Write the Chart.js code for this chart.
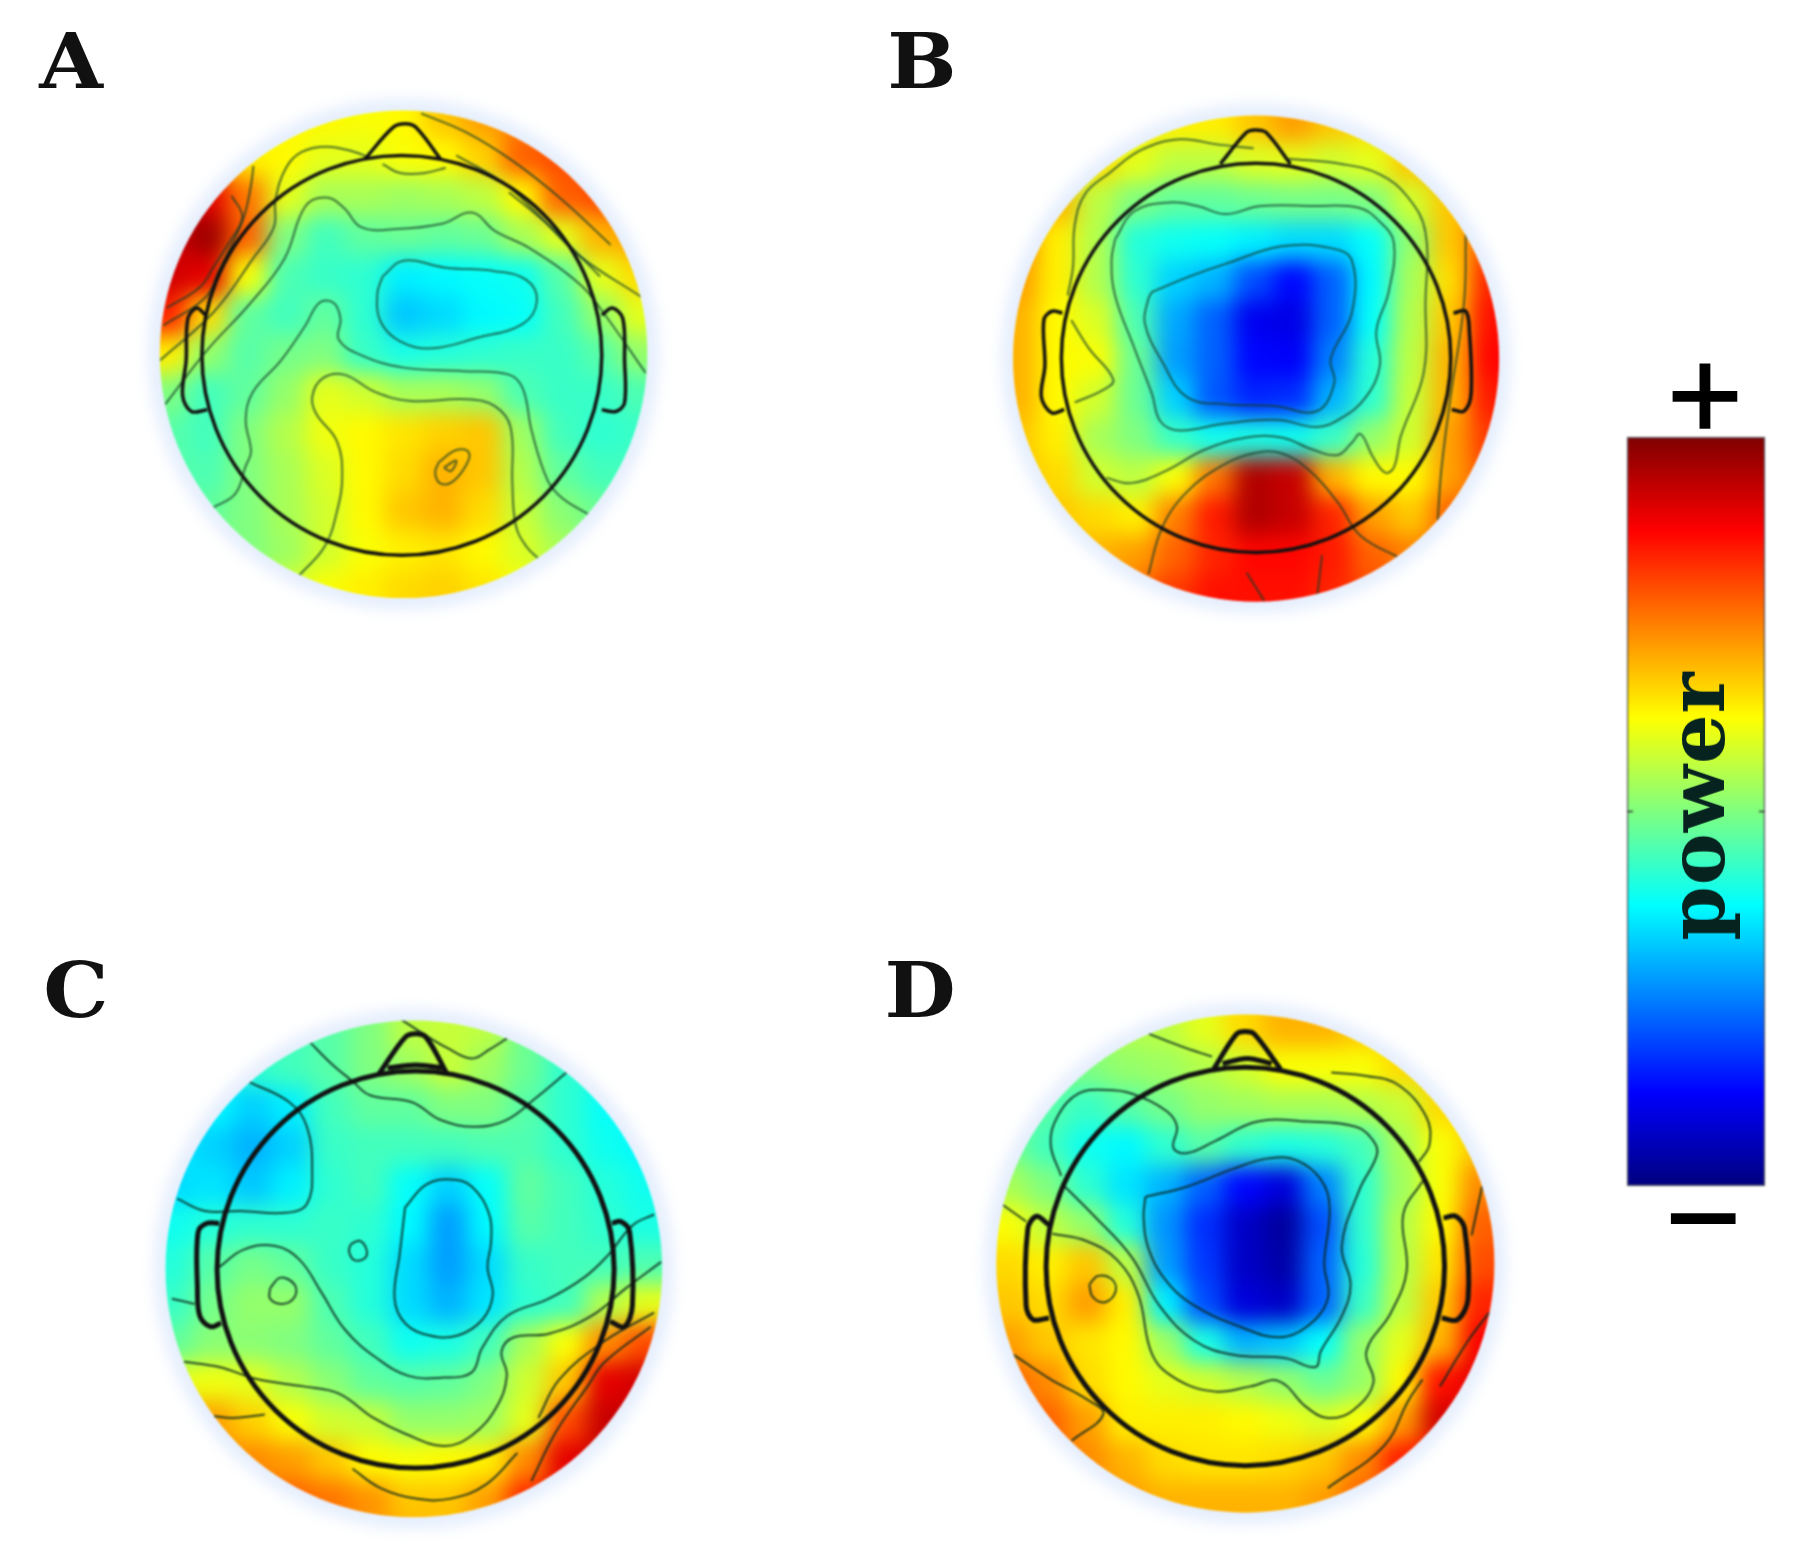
<!DOCTYPE html>
<html>
<head>
<meta charset="utf-8">
<title>Power topographies</title>
<script src="https://cdn.jsdelivr.net/npm/chart.js@4"></script>
<style>
    html, body { margin: 0; background: #fff; }
    #page { position: relative; width: 1800px; height: 1546px; overflow: hidden; background: #fff; }
    canvas { position: absolute; filter: blur(0.9px); }
    .label { position: absolute; line-height: 1; color: #111; filter: blur(0.7px); white-space: pre; }
    .letter { font: bold 76px "DejaVu Serif", serif; transform: translate(-50%, -50%) scaleX(1.08); }
    .sign { font: normal 130px "Liberation Mono", monospace; transform: translate(-50%, -50%); color: #000; -webkit-text-stroke: 1.5px #000; }
    #power { font: bold 78px "DejaVu Serif", serif; letter-spacing: 1px; left: 1651px; top: 806px; transform-origin: 0 0; transform: rotate(-90deg) translate(-50%, 0); color: #06231f; }
</style>
</head>
<body>
<div id="page">
    <canvas id="panel-a" width="550" height="550" style="left:130px;top:80px"></canvas>
    <canvas id="panel-b" width="550" height="550" style="left:980px;top:85px"></canvas>
    <canvas id="panel-c" width="550" height="550" style="left:135px;top:990px"></canvas>
    <canvas id="panel-d" width="550" height="550" style="left:970px;top:990px"></canvas>
    <canvas id="colorbar" width="138" height="749" style="left:1627px;top:437px"></canvas>
    <div class="label letter" style="left:71px;top:61px">A</div>
    <div class="label letter" style="left:922px;top:61px">B</div>
    <div class="label letter" style="left:76px;top:990px">C</div>
    <div class="label letter" style="left:920px;top:990px">D</div>
    <div class="label sign" style="left:1705px;top:404px">+</div>
    <div class="label sign" style="left:1703px;top:1227px">−</div>
    <div class="label" id="power">power</div>
</div>

<script>
const gridStep = 112;
const jetStops = [0, 0.125, 0.375, 0.625, 0.875, 1];
const jetColors = [[0, 0, 127], [0, 0, 255], [0, 255, 255], [255, 255, 0], [255, 0, 0], [127, 0, 0]];

// Panel A
const panelAHeat = [
    [.63,.63,.63,.63,.63,.63,.63,.63,.68,.72,.75,.78,.78,.78,.78],
    [.63,.63,.63,.63,.63,.63,.62,.63,.68,.72,.75,.78,.78,.78,.78],
    [.74,.74,.74,.64,.63,.60,.60,.62,.63,.67,.78,.80,.80,.80,.80],
    [.92,.92,.90,.76,.60,.54,.54,.53,.54,.56,.63,.78,.80,.80,.80],
    [.92,.92,.97,.78,.50,.44,.47,.48,.47,.48,.54,.60,.70,.72,.72],
    [.92,.92,.90,.62,.45,.43,.42,.36,.37,.38,.39,.46,.60,.66,.66],
    [.84,.84,.66,.47,.44,.47,.42,.32,.34,.37,.38,.44,.52,.60,.60],
    [.64,.64,.52,.46,.49,.50,.43,.40,.41,.42,.43,.43,.46,.52,.52],
    [.50,.50,.44,.47,.52,.60,.58,.54,.54,.52,.45,.43,.43,.45,.45],
    [.46,.46,.44,.50,.55,.61,.63,.65,.67,.68,.53,.44,.42,.43,.43],
    [.46,.46,.45,.50,.54,.59,.63,.66,.70,.68,.55,.47,.44,.44,.44],
    [.47,.47,.47,.50,.54,.58,.63,.68,.70,.66,.57,.51,.48,.46,.46],
    [.50,.50,.50,.50,.53,.58,.62,.64,.65,.63,.59,.54,.50,.48,.48],
    [.56,.56,.56,.56,.58,.62,.64,.66,.67,.65,.62,.57,.54,.54,.54],
    [.60,.60,.60,.60,.60,.62,.64,.66,.67,.65,.62,.60,.60,.60,.60]
];
const panelAContours = [
    [[352,245],[345,300],[325,390],[290,470],[255,540],[215,620],[95,700]],
    [[290,330],[320,390],[285,460],[240,530],[200,590],[105,650]],
    [[680,220],[640,205],[560,190],[490,205],[445,250],[415,340],[410,420],[350,510],[240,660],[85,800]],
    [[720,240],[770,265],[840,265],[900,250]],
    [[830,95],[960,150],[1090,230],[1230,340],[1370,470]],
    [[930,215],[1060,290],[1150,370],[1280,500],[1460,620]],
    [[1080,320],[1200,420],[1340,560]],
    [[100,925],[220,770],[340,640],[440,510],[500,360],[560,335],[610,365],[660,420],[760,425],[890,410],[975,378],[1040,430],[1140,480],[1280,580],[1340,650],[1470,835]],
    [[720,560],[780,515],[900,535],[1040,545],[1130,570],[1160,630],[1120,695],[990,735],[860,765],[770,745],[715,690],[705,610],[720,560]],
    [[235,1220],[300,1180],[330,1100],[345,1060],[330,970],[350,890],[430,800],[500,700],[540,635],[580,635],[600,680],[595,740],[660,785],[780,820],[950,830],[1080,840],[1120,880],[1145,1000],[1190,1140],[1230,1190],[1310,1240]],
    [[480,1415],[555,1330],[590,1230],[605,1130],[590,1030],[530,950],[520,900],[550,850],[610,840],[700,890],[800,915],[960,910],[1040,930],[1085,990],[1090,1150],[1100,1270],[1130,1330],[1165,1365]],
    [[880,1090],[930,1055],[965,1060],[960,1095],[920,1145],[885,1150],[870,1120],[880,1090]],
    [[895,1105],[930,1085],[915,1115],[895,1105]]
];
const panelAOutline = [
    [[670,225],[750,135],[785,125],[815,135],[885,225]],
    [[215,670],[190,650],[165,680],[160,800],[150,900],[175,945],[220,940]],
    [[1345,670],[1375,650],[1405,680],[1410,800],[1410,920],[1385,945],[1345,940]]
];
const panelADisc = [780, 782, 695];
const panelAHead = [775, 785, 570];

// Panel B
const panelBHeat = [
    [.65,.65,.65,.65,.65,.64,.64,.68,.72,.68,.66,.66,.66,.66,.66],
    [.65,.65,.65,.65,.65,.64,.64,.68,.72,.68,.66,.66,.66,.66,.66],
    [.70,.70,.70,.66,.60,.56,.56,.59,.60,.58,.60,.68,.72,.72,.72],
    [.74,.74,.70,.56,.50,.47,.47,.48,.49,.49,.50,.58,.68,.78,.78],
    [.74,.74,.64,.55,.41,.39,.38,.36,.34,.34,.38,.52,.68,.80,.80],
    [.72,.72,.64,.55,.42,.33,.30,.20,.13,.22,.37,.54,.66,.84,.84],
    [.70,.70,.63,.59,.45,.29,.22,.11,.10,.22,.38,.55,.68,.86,.86],
    [.70,.70,.63,.62,.48,.28,.22,.13,.12,.25,.41,.56,.70,.87,.87],
    [.70,.70,.63,.58,.48,.33,.21,.16,.17,.30,.42,.57,.70,.85,.85],
    [.68,.68,.64,.54,.50,.43,.39,.40,.39,.43,.52,.58,.72,.82,.82],
    [.68,.68,.66,.58,.56,.62,.76,.95,.93,.70,.63,.63,.72,.80,.80],
    [.70,.70,.68,.66,.64,.75,.85,.95,.93,.84,.72,.68,.78,.80,.80],
    [.70,.70,.70,.70,.72,.78,.84,.87,.87,.85,.78,.75,.78,.80,.80],
    [.74,.74,.74,.75,.78,.82,.86,.86,.86,.84,.80,.78,.80,.80,.80],
    [.78,.78,.78,.78,.78,.82,.86,.86,.86,.84,.80,.80,.80,.80,.80]
];
const panelBContours = [
    [[250,600],[265,520],[270,400],[300,310],[370,250],[460,185],[570,155],[680,170],[780,180]],
    [[880,210],[1030,225],[1140,255],[1220,320],[1270,420],[1270,620],[1265,820],[1200,1000],[1180,1090],[1155,1105],[1120,1060],[1085,995],[1060,1020],[1020,1055],[950,1040],[860,1005],[760,1005],[640,1040],[530,1100],[430,1135],[360,1120]],
    [[260,670],[310,750],[380,840],[350,870],[270,905]],
    [[385,440],[440,360],[540,335],[620,345],[700,368],[800,345],[950,345],[1080,350],[1140,390],[1180,450],[1165,590],[1130,700],[1140,800],[1100,890],[1030,950],[960,975],[850,955],[700,965],[570,985],[515,960],[490,880],[440,750],[385,600],[375,500],[385,440]],
    [[490,590],[600,545],[700,510],[860,460],[1000,465],[1060,500],[1060,650],[1000,780],[1010,850],[960,930],[840,915],[700,910],[590,890],[520,790],[470,680],[480,610],[490,590]],
    [[480,1395],[520,1260],[590,1160],[690,1085],[780,1050],[860,1050],[940,1100],[1020,1190],[1085,1285],[1200,1350]],
    [[760,1390],[810,1470]],
    [[960,1470],[975,1340]],
    [[1385,420],[1380,620],[1340,900],[1315,1100],[1305,1240]]
];
const panelBOutline = [
    [[685,225],[760,135],[785,128],[815,135],[885,225]],
    [[235,650],[205,645],[182,670],[185,800],[175,890],[205,935],[240,925]],
    [[1350,650],[1385,645],[1395,700],[1400,880],[1380,930],[1345,925]]
];
const panelBDisc = [787, 780, 693];
const panelBHead = [787, 778, 555];

// Panel C
const panelCHeat = [
    [.40,.40,.40,.42,.44,.46,.50,.56,.57,.56,.48,.42,.40,.40,.40],
    [.40,.40,.40,.42,.44,.46,.50,.56,.57,.56,.48,.42,.40,.40,.40],
    [.38,.38,.38,.42,.44,.46,.50,.53,.57,.53,.48,.42,.40,.38,.38],
    [.36,.36,.37,.33,.36,.44,.47,.47,.50,.50,.46,.42,.38,.37,.37],
    [.36,.36,.33,.30,.33,.43,.44,.44,.44,.45,.45,.42,.39,.37,.37],
    [.34,.34,.35,.32,.36,.42,.44,.38,.33,.38,.47,.44,.41,.39,.39],
    [.39,.39,.41,.42,.42,.43,.42,.37,.28,.37,.46,.44,.42,.40,.40],
    [.41,.41,.46,.49,.47,.43,.41,.34,.28,.34,.43,.44,.44,.45,.45],
    [.43,.43,.49,.52,.52,.45,.41,.34,.30,.35,.42,.44,.55,.60,.60],
    [.47,.47,.51,.51,.50,.47,.44,.39,.40,.44,.54,.62,.74,.80,.80],
    [.60,.60,.61,.60,.55,.51,.47,.46,.47,.50,.58,.68,.90,.92,.92],
    [.72,.72,.72,.67,.62,.58,.57,.52,.52,.53,.60,.80,.93,.93,.93],
    [.74,.74,.74,.74,.72,.68,.63,.62,.63,.64,.74,.90,.93,.93,.93],
    [.78,.78,.78,.78,.78,.76,.73,.68,.68,.72,.84,.90,.90,.90,.90],
    [.78,.78,.78,.78,.78,.76,.73,.70,.70,.72,.84,.90,.90,.90,.90]
];
const panelCContours = [
    [[760,85],[830,130],[890,165],[960,195],[1010,170],[1065,135]],
    [[500,150],[560,210],[620,260],[670,300],[790,320],[870,370],[970,390],[1060,370],[1140,310],[1230,235]],
    [[320,260],[440,320],[490,390],[505,510],[490,610],[430,635],[300,630],[200,630],[120,595]],
    [[770,620],[830,555],[900,540],[960,560],[1010,640],[1015,720],[1005,790],[1020,870],[990,940],[920,985],[840,985],[770,950],[740,880],[755,750],[770,620]],
    [[105,880],[170,895]],
    [[240,790],[310,740],[400,730],[470,770],[530,860],[600,970],[690,1050],[780,1100],[880,1105],[960,1090],[990,1020],[1060,930],[1180,880],[1280,820],[1345,760],[1420,670],[1480,640]],
    [[615,725],[640,715],[660,740],[655,765],[625,770],[610,745],[615,725]],
    [[385,850],[415,820],[455,840],[455,875],[420,895],[385,880],[385,850]],
    [[140,1060],[240,1075],[350,1110],[480,1130],[580,1150],[680,1220],[770,1265],[880,1300],[960,1270],[1030,1190],[1060,1100],[1045,1030],[1080,990],[1180,980],[1300,930],[1400,850],[1500,775]],
    [[225,1215],[280,1220],[370,1210]],
    [[620,1365],[700,1420],[800,1450],[900,1450],[1000,1410],[1090,1320]],
    [[1130,1400],[1200,1260],[1290,1130],[1340,1060],[1470,960]],
    [[1150,1220],[1210,1110],[1340,1000],[1480,920]]
];
const panelCOutline = [
    [[695,240],[770,135],[800,125],[830,135],[890,240]],
    [[720,222],[800,214],[880,222]],
    [[240,665],[205,665],[180,690],[178,850],[185,930],[215,960],[245,950]],
    [[1360,665],[1385,660],[1410,690],[1418,900],[1395,960],[1355,945]]
];
const panelCDisc = [795, 795, 708];
const panelCHead = [800, 797, 566];

// Panel D
const panelDHeat = [
    [.54,.54,.54,.54,.55,.56,.60,.66,.70,.70,.68,.66,.66,.66,.66],
    [.54,.54,.54,.54,.55,.56,.60,.66,.70,.70,.68,.66,.66,.66,.66],
    [.52,.52,.50,.50,.52,.53,.55,.58,.62,.62,.62,.66,.68,.68,.68],
    [.50,.50,.46,.43,.46,.49,.52,.53,.54,.54,.55,.57,.66,.68,.68],
    [.49,.49,.44,.39,.37,.42,.46,.42,.40,.41,.44,.54,.62,.68,.68],
    [.54,.54,.50,.42,.35,.30,.22,.13,.09,.25,.42,.53,.62,.74,.74],
    [.62,.62,.56,.52,.41,.27,.17,.07,.03,.20,.42,.55,.63,.78,.78],
    [.66,.66,.64,.68,.56,.28,.18,.07,.04,.22,.41,.55,.65,.80,.80],
    [.68,.68,.66,.72,.64,.36,.20,.09,.07,.22,.43,.56,.68,.84,.84],
    [.72,.72,.68,.65,.63,.53,.40,.30,.32,.38,.52,.60,.70,.88,.88],
    [.78,.78,.74,.66,.63,.60,.58,.55,.52,.48,.52,.63,.86,.90,.90],
    [.78,.78,.78,.72,.64,.64,.64,.63,.61,.59,.62,.72,.92,.92,.92],
    [.78,.78,.78,.74,.70,.66,.65,.65,.66,.68,.74,.85,.88,.88,.88],
    [.74,.74,.74,.74,.72,.70,.70,.70,.70,.72,.78,.82,.84,.84,.84],
    [.72,.72,.72,.72,.72,.70,.70,.70,.70,.72,.78,.82,.84,.84,.84]
];
const panelDContours = [
    [[510,125],[600,160],[690,190]],
    [[260,530],[230,440],[250,360],[310,295],[390,285],[460,295],[560,345],[590,390],[580,450],[620,465],[700,430],[820,375],[960,375],[1100,390],[1150,430],[1160,470],[1110,570],[1060,730],[1085,840],[1060,930],[1000,1030],[985,1075],[900,1050],[750,1040],[640,1000],[540,900],[460,760],[350,640],[270,560]],
    [[500,590],[620,560],[750,510],[850,480],[930,485],[1000,540],[1025,620],[1010,780],[1020,880],[960,960],[880,990],[770,960],[640,900],[560,830],[510,740],[495,650],[500,590]],
    [[235,695],[330,715],[420,770],[480,870],[520,1040],[590,1110],[700,1145],[800,1130],[880,1115],[960,1190],[1020,1220],[1090,1200],[1150,1120],[1130,1030],[1200,920],[1245,800],[1235,640],[1290,545]],
    [[1280,490],[1310,440],[1300,360],[1220,270],[1130,245],[1030,235]],
    [[340,840],[365,815],[405,825],[415,860],[385,890],[350,875],[340,840]],
    [[90,610],[160,660]],
    [[125,1040],[230,1110],[330,1165],[380,1210],[290,1285]],
    [[1460,560],[1430,700]],
    [[1020,1420],[1180,1300],[1250,1170],[1290,1110]],
    [[1340,1130],[1420,1000],[1480,920]]
];
const panelDOutline = [
    [[695,225],[760,125],[785,118],[810,125],[885,225]],
    [[720,210],[790,195],[860,210]],
    [[225,670],[190,645],[165,680],[160,900],[180,940],[225,935]],
    [[1350,650],[1385,645],[1410,680],[1420,880],[1390,940],[1345,935]]
];
const panelDDisc = [785, 780, 710];
const panelDHead = [785, 788, 568];

// Colour bar
const barCategories = ['power'];
const barRange = [[0, 1]];
const barTicks = [0.5];

function jetColor(v) {
    let i = 0;
    while (i < jetStops.length - 2 && v > jetStops[i + 1]) i++;
    const t = (v - jetStops[i]) / (jetStops[i + 1] - jetStops[i]);
    const c = jetColors[i].map((a, k) => Math.round(a + (jetColors[i + 1][k] - a) * t));
    return `rgb(${c[0]}, ${c[1]}, ${c[2]})`;
}

const toPoints = pairs => pairs.map(p => ({ x: p[0], y: p[1] }));

function discPath(chart, disc, grow) {
    const sx = chart.scales.x, sy = chart.scales.y;
    const r = sx.getPixelForValue(disc[2]) - sx.getPixelForValue(0);
    chart.ctx.beginPath();
    chart.ctx.arc(sx.getPixelForValue(disc[0]), sy.getPixelForValue(disc[1]), r + grow, 0, Math.PI * 2);
}

const heatPlugin = {
    id: 'heatBlur',
    // Contour lines stop at the edge of the disc
    beforeDatasetDraw(chart, args, opts) {
        if (!chart.data.datasets[args.index].inDisc) return;
        chart.ctx.save();
        discPath(chart, opts.disc, 0);
        chart.ctx.clip();
    },
    afterDatasetDraw(chart, args, opts) {
        if (chart.data.datasets[args.index].inDisc) chart.ctx.restore();
        if (args.index !== chart.data.datasets.length - 1) return;

        // Blur the crisp heat cells and cut them to the disc
        const ctx = chart.ctx;
        const copy = document.createElement('canvas');
        copy.width = chart.canvas.width;
        copy.height = chart.canvas.height;
        copy.getContext('2d').drawImage(chart.canvas, 0, 0);

        ctx.save();
        ctx.clearRect(0, 0, copy.width, copy.height);

        // Pale halo around the disc
        ctx.filter = 'blur(7px)';
        ctx.fillStyle = '#e6effd';
        discPath(chart, opts.disc, 12);
        ctx.fill();

        ctx.filter = 'blur(11px)';
        discPath(chart, opts.disc, 0);
        ctx.clip();
        ctx.drawImage(copy, 0, 0);
        ctx.restore();
    }
};

function drawPanel(id, heat, contours, outline, disc, head, lineWidth, contourColor) {
    const heatPoints = [];
    heat.forEach((row, r) => row.forEach((v, c) => {
        heatPoints.push({ x: c * gridStep, y: r * gridStep, v: v });
    }));

    const datasets = [];
    outline.forEach(part => datasets.push({
        data: toPoints(part),
        showLine: true,
        borderColor: '#111',
        borderWidth: lineWidth,
        pointRadius: 0,
        tension: 0.35
    }));
    datasets.push({
        data: toPoints([head]),
        showLine: false,
        pointRadius: ctx => ctx.chart.scales.x.getPixelForValue(head[2]) - ctx.chart.scales.x.getPixelForValue(0),
        pointBackgroundColor: 'transparent',
        pointBorderColor: '#111',
        pointBorderWidth: lineWidth
    });
    contours.forEach(part => datasets.push({
        data: toPoints(part),
        inDisc: true,
        showLine: true,
        borderColor: contourColor,
        borderWidth: 2,
        pointRadius: 0,
        tension: 0.4
    }));
    // Chart.js paints the last dataset first, so the heat cells go under everything
    datasets.push({
        data: heatPoints,
        pointStyle: 'rect',
        pointRadius: ctx => (ctx.chart.scales.x.getPixelForValue(gridStep) - ctx.chart.scales.x.getPixelForValue(0)) * 0.75,
        pointBorderWidth: 0,
        pointBackgroundColor: ctx => jetColor(ctx.raw.v)
    });

    new Chart(document.getElementById(id), {
        type: 'scatter',
        data: { datasets: datasets },
        options: {
            responsive: false,
            animation: false,
            layout: { padding: 0 },
            plugins: { legend: { display: false }, tooltip: { enabled: false }, heatBlur: { disc: disc } },
            scales: {
                x: { display: false, min: 0, max: 1568 },
                y: { display: false, min: 0, max: 1568, reverse: true }
            }
        },
        plugins: [heatPlugin]
    });
}

function drawColorbar() {
    const tickPlugin = {
        id: 'barTicks',
        afterDraw(chart) {
            const ctx = chart.ctx;
            const { left, right } = chart.chartArea;
            ctx.save();
            ctx.strokeStyle = '#333';
            ctx.lineWidth = 1.5;
            barTicks.forEach(v => {
                const y = chart.scales.y.getPixelForValue(v);
                ctx.beginPath();
                ctx.moveTo(left, y); ctx.lineTo(left + 6, y);
                ctx.moveTo(right - 6, y); ctx.lineTo(right, y);
                ctx.stroke();
            });
            ctx.restore();
        }
    };

    new Chart(document.getElementById('colorbar'), {
        type: 'bar',
        data: {
            labels: barCategories,
            datasets: [{
                data: barRange,
                barPercentage: 1,
                categoryPercentage: 1,
                borderColor: '#4a4a55',
                borderWidth: 1.5,
                borderSkipped: false,
                backgroundColor: ctx => {
                    const area = ctx.chart.chartArea;
                    if (!area) return '#000';
                    const g = ctx.chart.ctx.createLinearGradient(0, area.bottom, 0, area.top);
                    jetStops.forEach(s => g.addColorStop(s, jetColor(s)));
                    return g;
                }
            }]
        },
        options: {
            responsive: false,
            animation: false,
            layout: { padding: 0 },
            plugins: { legend: { display: false }, tooltip: { enabled: false } },
            scales: {
                x: { display: false },
                y: { display: false, min: 0, max: 1 }
            }
        },
        plugins: [tickPlugin]
    });
}

drawPanel('panel-a', panelAHeat, panelAContours, panelAOutline, panelADisc, panelAHead, 3.5, 'rgba(20, 60, 40, 0.72)');
drawPanel('panel-b', panelBHeat, panelBContours, panelBOutline, panelBDisc, panelBHead, 3.5, 'rgba(20, 60, 40, 0.72)');
drawPanel('panel-c', panelCHeat, panelCContours, panelCOutline, panelCDisc, panelCHead, 5, 'rgba(10, 40, 30, 0.85)');
drawPanel('panel-d', panelDHeat, panelDContours, panelDOutline, panelDDisc, panelDHead, 5, 'rgba(10, 40, 30, 0.85)');
drawColorbar();
</script>
</body>
</html>
